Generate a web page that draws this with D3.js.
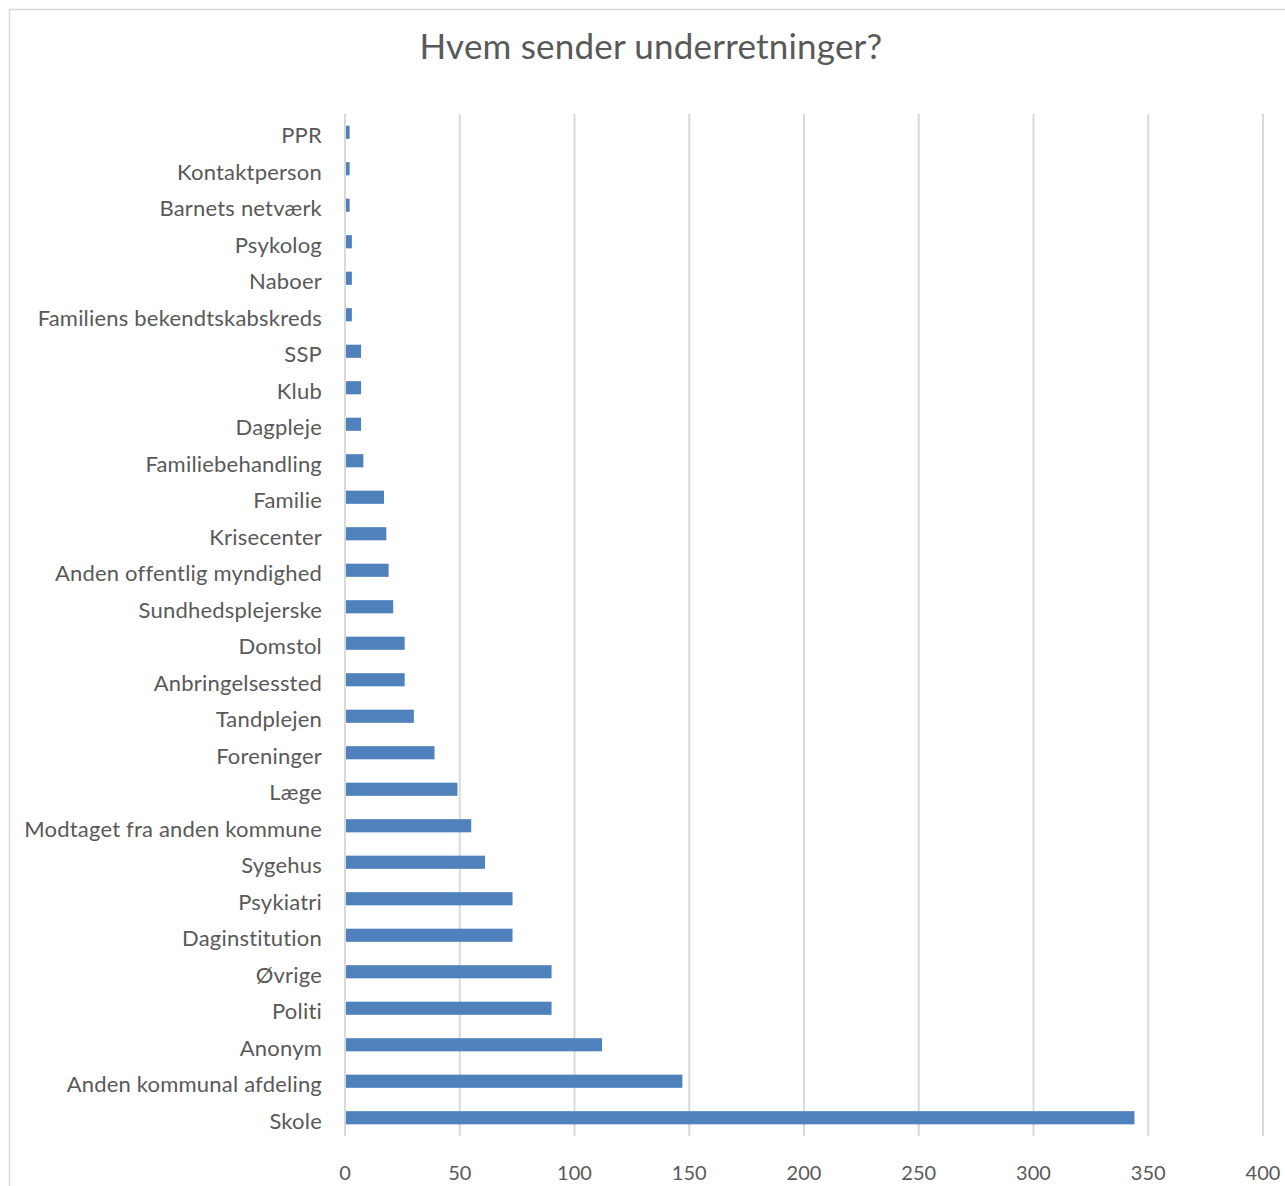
<!DOCTYPE html>
<html>
<head>
<meta charset="utf-8">
<script src="https://cdn.jsdelivr.net/npm/d3@7"></script>
<style>
  body { margin: 0; background: #fff; }
  svg text { font-family: Lato, "Open Sans", sans-serif; fill: #595959; }
</style>
</head>
<body>
<div id="chart"></div>
<script>
// categories top to bottom, as in the picture
var categories = ["PPR", "Kontaktperson", "Barnets netværk", "Psykolog", "Naboer",
  "Familiens bekendtskabskreds", "SSP", "Klub", "Dagpleje", "Familiebehandling",
  "Familie", "Krisecenter", "Anden offentlig myndighed", "Sundhedsplejerske",
  "Domstol", "Anbringelsessted", "Tandplejen", "Foreninger", "Læge",
  "Modtaget fra anden kommune", "Sygehus", "Psykiatri", "Daginstitution",
  "Øvrige", "Politi", "Anonym", "Anden kommunal afdeling", "Skole"];
var counts = [2, 2, 2, 3, 3, 3, 7, 7, 7, 8, 17, 18, 19, 21, 26, 26, 30, 39, 49,
  55, 61, 73, 73, 90, 90, 112, 147, 344];
var xTicks = [0, 50, 100, 150, 200, 250, 300, 350, 400];
var title = "Hvem sender underretninger?";

var W = 1285, H = 1186;
var svg = d3.select("#chart").append("svg").attr("width", W).attr("height", H);

// chart frame
svg.append("rect").attr("x", 9.5).attr("y", 9.5).attr("width", W + 20).attr("height", H + 20)
  .attr("fill", "#fff").attr("stroke", "#d9d9d9").attr("stroke-width", 1.5);

svg.append("text").attr("x", 651).attr("y", 59).attr("text-anchor", "middle")
  .style("font-size", "35px").style("letter-spacing", "0.2px").text(title);

var x = d3.scaleLinear().domain([0, 400]).range([345, 1263]);
var y = d3.scaleBand().domain(categories).range([114, 1136]).paddingInner(0.64).paddingOuter(0.32);

// gridlines
svg.append("g").selectAll("line").data(xTicks).join("line")
  .attr("x1", function(d) { return x(d); }).attr("x2", function(d) { return x(d); })
  .attr("y1", 114).attr("y2", 1136)
  .attr("stroke", "#d9d9d9").attr("stroke-width", 2);

// bars
svg.append("g").selectAll("rect").data(categories).join("rect")
  .attr("x", x(0) + 1)
  .attr("y", function(d) { return y(d); })
  .attr("width", function(d, i) { return x(counts[i]) - x(0) - 1; })
  .attr("height", y.bandwidth())
  .attr("fill", "#4f81bd");

// category labels
svg.append("g").selectAll("text").data(categories).join("text")
  .attr("x", 322)
  .attr("y", function(d) { return y(d) + y.bandwidth() / 2 + 3; })
  .attr("dy", "0.36em")
  .attr("text-anchor", "end")
  .style("font-size", "22px")
  .style("letter-spacing", "0.2px")
  .text(function(d) { return d; });

// x tick labels
svg.append("g").selectAll("text").data(xTicks).join("text")
  .attr("x", function(d) { return x(d); })
  .attr("y", 1173).attr("dy", "0.36em")
  .attr("text-anchor", "middle")
  .style("font-size", "20px")
  .text(function(d) { return d; });
</script>
</body>
</html>
